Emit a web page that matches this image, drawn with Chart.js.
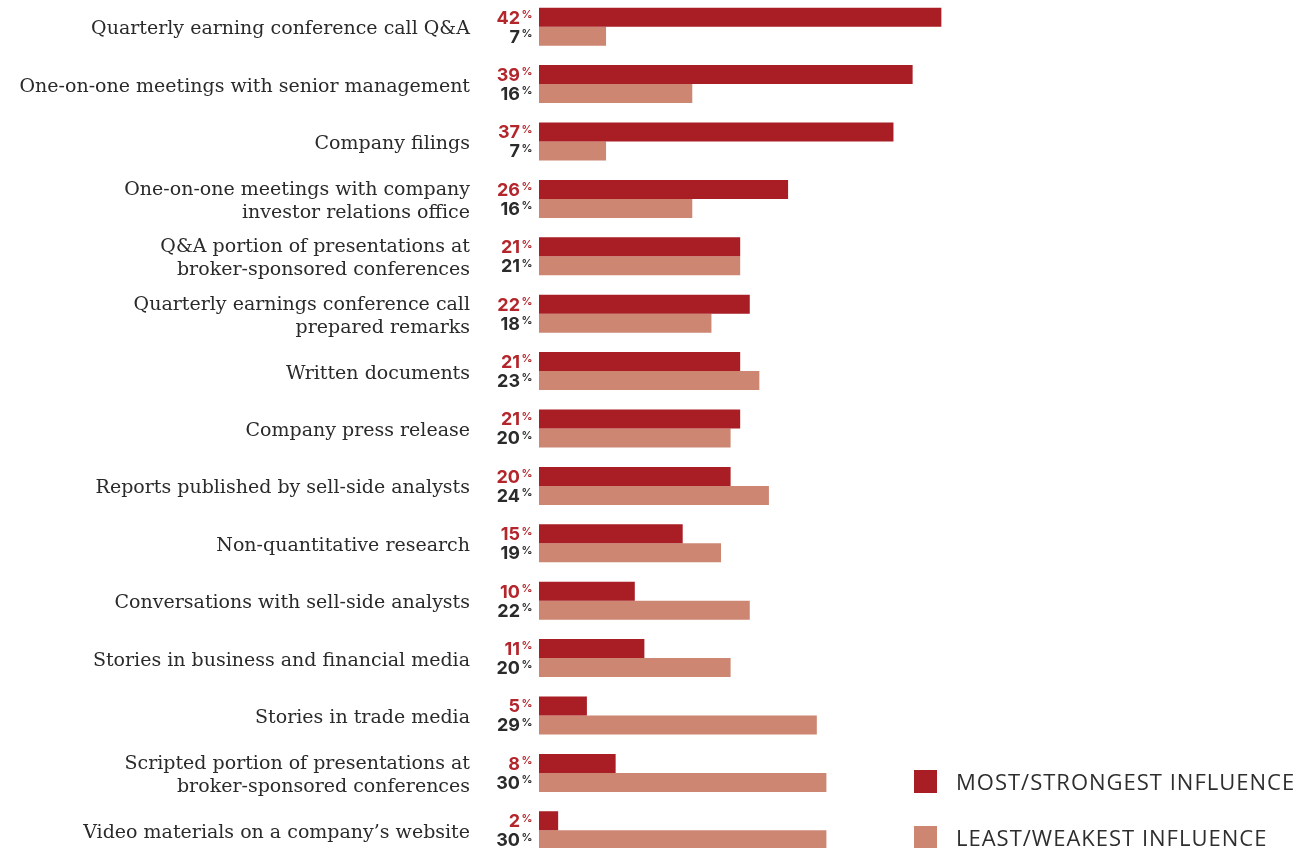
<!DOCTYPE html>
<html>
<head>
<meta charset="utf-8">
<script src="https://cdn.jsdelivr.net/npm/chart.js@4.4.1/dist/chart.umd.min.js"></script>
<style>
  html, body { margin: 0; padding: 0; background: #ffffff; overflow: hidden; width: 1314px; height: 848px; }
  #wrap { position: absolute; left: 0; top: -2px; width: 1314px; height: 861px; }
  .leg { position: absolute; left: 914px; height: 23px; display: flex; align-items: center; font-family: "Open Sans", sans-serif; font-size: 22px; line-height: 23px; letter-spacing: 1px; color: #2e2e2e; white-space: nowrap; }
  .leg span.sw { display: inline-block; width: 23px; height: 23px; margin-right: 19px; flex: none; }
  .leg span.tx { position: relative; top: 0px; }
</style>
</head>
<body>
<div id="wrap"><canvas id="c"></canvas></div>
<div class="leg" style="top:770px;"><span class="sw" style="background:#a91d24"></span><span class="tx">MOST/STRONGEST INFLUENCE</span></div>
<div class="leg" style="top:826px;"><span class="sw" style="background:#cc8672"></span><span class="tx">LEAST/WEAKEST INFLUENCE</span></div>
<script>
const categories = [
  "Quarterly earning conference call Q&A",
  "One-on-one meetings with senior management",
  "Company filings",
  ["One-on-one meetings with company", "investor relations office"],
  ["Q&A portion of presentations at", "broker-sponsored conferences"],
  ["Quarterly earnings conference call", "prepared remarks"],
  "Written documents",
  "Company press release",
  "Reports published by sell-side analysts",
  "Non-quantitative research",
  "Conversations with sell-side analysts",
  "Stories in business and financial media",
  "Stories in trade media",
  ["Scripted portion of presentations at", "broker-sponsored conferences"],
  "Video materials on a company\u2019s website"
];
const mostStrongest = [42, 39, 37, 26, 21, 22, 21, 21, 20, 15, 10, 11, 5, 8, 2];
const leastWeakest  = [7, 16, 7, 16, 21, 18, 23, 20, 24, 19, 22, 20, 29, 30, 30];
const seriesNames = ["MOST/STRONGEST INFLUENCE", "LEAST/WEAKEST INFLUENCE"];

const RED = "#a91d24", SALMON = "#cc8672";
const LABEL_COLORS = ["#b3262c", "#2b2b2b"];

const valueLabels = {
  id: "valueLabels",
  afterDatasetsDraw(chart) {
    const ctx = chart.ctx;
    ctx.save();
    chart.data.datasets.forEach((ds, di) => {
      const meta = chart.getDatasetMeta(di);
      meta.data.forEach((el, i) => {
        const v = ds.data[i];
        const y = el.y + 1;
        ctx.fillStyle = LABEL_COLORS[di];
        ctx.font = "700 18px Inter, sans-serif";
        ctx.textAlign = "right";
        ctx.textBaseline = "middle";
        ctx.fillText(String(v), 520, y);
        ctx.font = "600 11px Inter, sans-serif";
        ctx.textAlign = "left";
        ctx.fillText("%", 521.5, y - 3.5);
      });
    });
    ctx.restore();
  }
};

new Chart(document.getElementById("c"), {
  type: "bar",
  data: {
    labels: categories,
    datasets: [
      { label: seriesNames[0], data: mostStrongest, backgroundColor: RED },
      { label: seriesNames[1], data: leastWeakest, backgroundColor: SALMON }
    ]
  },
  options: {
    indexAxis: "y",
    responsive: true,
    maintainAspectRatio: false,
    animation: false,
    layout: { padding: { left: 0, right: 8.6, top: 0, bottom: 0 } },
    categoryPercentage: 0.662,
    barPercentage: 1.0,
    plugins: { legend: { display: false }, tooltip: { enabled: false } },
    scales: {
      x: { display: false, min: 0, max: 80 },
      y: {
        grid: { display: false, drawTicks: false },
        border: { display: false },
        afterFit(scale) { scale.width = 539; scale.paddingTop = 0; scale.paddingBottom = 0; },
        afterUpdate(scale) {
          if (!scale._shiftPatched) {
            const orig = scale.drawLabels;
            scale.drawLabels = function (area) {
              const ctx = this.ctx;
              ctx.save();
              ctx.translate(0, 2.5);
              orig.call(this, area);
              ctx.restore();
            };
            scale._shiftPatched = true;
          }
        },
        ticks: {
          padding: 69,
          color: "#2a2a2a",
          font: { family: "'DejaVu Serif', serif", size: 19, lineHeight: 23 / 19 }
        }
      }
    }
  },
  plugins: [valueLabels]
});
</script>
</body>
</html>
